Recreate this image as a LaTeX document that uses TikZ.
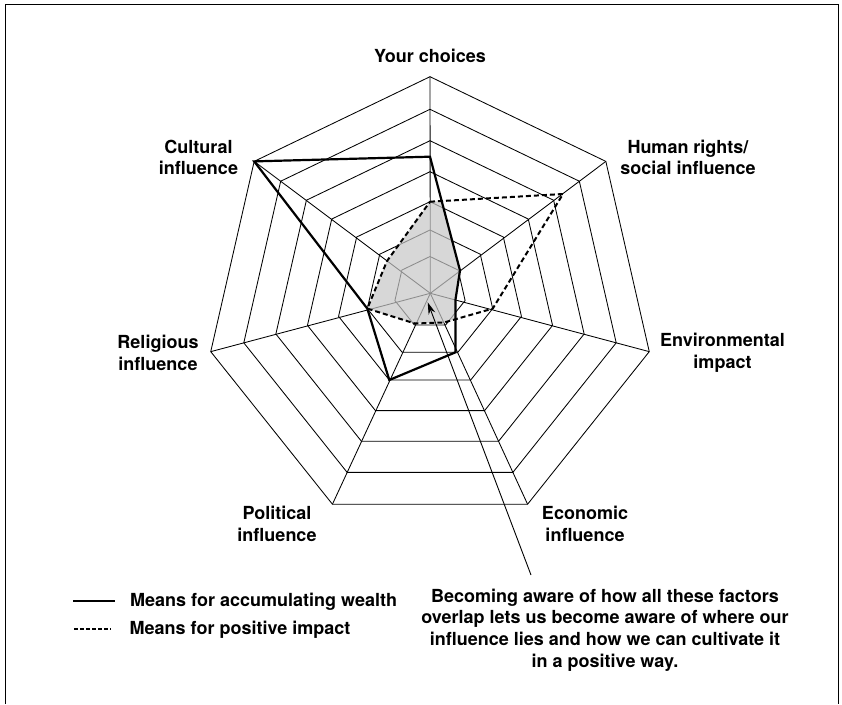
\documentclass[tikz,border=0pt]{standalone}
\usepackage{fontspec}
\setmainfont{TeX Gyre Heros}
\usetikzlibrary{arrows.meta}
\begin{document}
\begin{tikzpicture}[x=1pt,y=-1pt,
  gridline/.style={line width=0.85pt, black},
  wealth/.style={line width=2.2pt, line join=miter},
  impact/.style={line width=2pt, dash pattern=on 5pt off 3pt},
  lbl/.style={font=\fontsize{18}{21.6}\selectfont\bfseries, align=center, inner sep=0pt}]
\useasboundingbox (0,0) rectangle (842,704);
% frame
\draw[line width=1pt] (5.3,704) -- (5.3,4.5) -- (838.5,4.5) -- (838.5,704);

% rings
\foreach \r/\cy in {36.0/292.5, 64.3/294.3, 93.8/295.5, 125.7/297.4, 158.1/298.8, 191.0/300.3, 224.9/301.6}{
  \draw[gridline] (430,{\cy-\r}) \foreach \i in {1,...,6}{ -- ({430+\r*sin(\i*360/7)},{\cy-\r*cos(\i*360/7)}) } -- cycle;
}
% spokes
\coordinate (c) at (430.3,293.3);
\foreach \i in {0,...,6}{
  \coordinate (o\i) at ({430+224.9*sin(\i*360/7)},{301.6-224.9*cos(\i*360/7)});
  \draw[gridline] (c) -- (o\i);
}

% data points: means for accumulating wealth
\coordinate (w0) at (430,156.7);
\coordinate (w1) at (460,270.5);
\coordinate (w2) at (455.5,299.5);
\coordinate (w3) at (455.5,352.3);
\coordinate (w4) at (389.3,380);
\coordinate (w5) at (367.3,308.6);
\coordinate (w6) at (o6);
% data points: means for positive impact
\coordinate (p0) at (430,201.7);
\coordinate (p1) at (563,194);
\coordinate (p2) at (492.7,308.6);
\coordinate (p3) at (444,322.5);
\coordinate (p4) at (415,323.5);
\coordinate (p5) at (367.3,308.6);
\coordinate (p6) at (387,261);

% overlap shading
\begin{scope}
  \clip (w0)--(w1)--(w2)--(w3)--(w4)--(w5)--(w6)--cycle;
  \fill[black!22.5, opacity=0.71] (p0)--(p1)--(p2)--(p3)--(p4)--(p5)--(p6)--cycle;
\end{scope}

\draw[impact] (p0)--(p1)--(p2)--(p3)--(p4)--(p5)--(p6)--cycle;
\draw[wealth] (w0)--(w1)--(w2)--(w3)--(w4)--(w5)--(w6)--cycle;

% axis labels
\node[lbl] (yc) at (430,56) {Your choices};
\node[lbl] (cul) at (198.5,157.5) {Cultural\\influence};
\node[lbl] (hr) at (688,157.5) {Human rights/\\social influence};
\node[lbl] (rel) at (158,353) {Religious\\influence};
\node[lbl] (env) at (722.5,353) {Environmental\\impact};
\node[lbl] (pol) at (277,524) {Political\\influence};
\node[lbl] (eco) at (585,524) {Economic\\influence};

% note and arrow
\node[lbl] (note) at (605,630) {Becoming aware of how all these factors\\overlap lets us become aware of where our\\influence lies and how we can cultivate it\\in a positive way.};
\coordinate (astart) at (531,575);
\coordinate (atip) at (427.7,302.3);
\draw[line width=0.9pt, -{Stealth[length=12pt,width=7pt]}] (astart) -- (atip);

% legend
\coordinate (l1a) at (73.3,600.7);
\coordinate (l1b) at (115,600.7);
\coordinate (l2a) at (74.4,629);
\coordinate (l2b) at (110.6,629);
\draw[line width=2pt] (l1a) -- (l1b);
\draw[line width=1.6pt, dash pattern=on 3.5pt off 2.5pt] (l2a) -- (l2b);
\node[lbl, anchor=base west] (leg1) at (130,606) {Means for accumulating wealth};
\node[lbl, anchor=base west] (leg2) at (129.5,634.5) {Means for positive impact};
\end{tikzpicture}
\end{document}
